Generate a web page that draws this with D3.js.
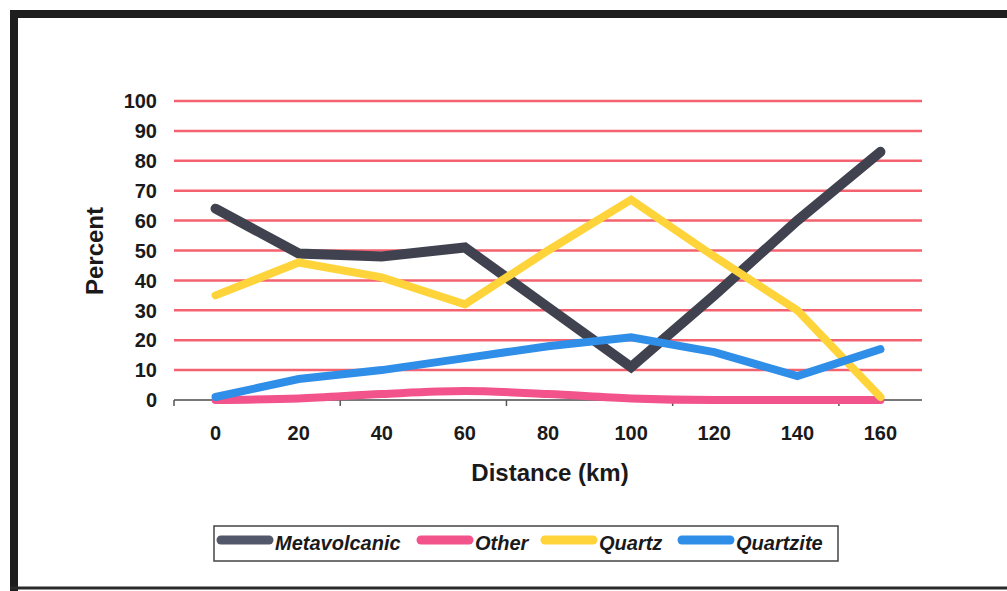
<!DOCTYPE html>
<html>
<head>
<meta charset="utf-8">
<script src="https://cdn.jsdelivr.net/npm/d3@7"></script>
<style>
  body { margin: 0; background: #fff; }
  text { font-family: "Liberation Sans", Arial, sans-serif; }
</style>
</head>
<body>
<div id="chart"></div>
<script>
// Data
const distances = ["0", "20", "40", "60", "80", "100", "120", "140", "160"];
const metavolcanic = [64, 49, 48, 51, 31, 11, 35, 60, 83];
const other = [0, 0.5, 2, 3, 2, 0.5, 0, 0, 0];
const quartz = [35, 46, 41, 32, 50, 67, 48, 30, 1];
const quartzite = [1, 7, 10, 14, 18, 21, 16, 8, 17];
const yTicks = [0, 10, 20, 30, 40, 50, 60, 70, 80, 90, 100];

const seriesNames = ["Metavolcanic", "Other", "Quartz", "Quartzite"];
const seriesColors = ["#40434f", "#f2538b", "#ffd43a", "#2f8ee8"];
const seriesValues = [metavolcanic, other, quartz, quartzite];

const width = 1007, height = 591;
const margin = { left: 174, right: 85, top: 101, bottom: 190 };
const innerWidth = width - margin.left - margin.right;
const innerHeight = 400 - margin.top;

const svg = d3.select("#chart")
    .append("svg")
    .attr("width", width)
    .attr("height", height);

// Outer frame
svg.append("line").attr("x1", 10).attr("x2", width).attr("y1", 14).attr("y2", 14)
    .attr("stroke", "#1e1e1e").attr("stroke-width", 8);
svg.append("line").attr("x1", 14).attr("x2", 14).attr("y1", 10).attr("y2", height)
    .attr("stroke", "#1e1e1e").attr("stroke-width", 8);
svg.append("line").attr("x1", 10).attr("x2", width).attr("y1", 588).attr("y2", 588)
    .attr("stroke", "#2a2a2a").attr("stroke-width", 3);

const g = svg.append("g")
    .attr("transform", `translate(${margin.left},${margin.top})`);

const x = d3.scaleBand()
    .domain(distances)
    .range([0, innerWidth])
    .padding(0);

const y = d3.scaleLinear()
    .domain([0, 100])
    .range([innerHeight, 0]);

const cx = d => x(d) + x.bandwidth() / 2;

// Gridlines
g.selectAll("line.grid")
    .data(yTicks.filter(t => t > 0))
    .join("line")
    .attr("class", "grid")
    .attr("x1", 0)
    .attr("x2", innerWidth)
    .attr("y1", d => y(d))
    .attr("y2", d => y(d))
    .attr("stroke", "#f5626f")
    .attr("stroke-width", 2.5);

// Y axis labels
g.selectAll("text.ytick")
    .data(yTicks)
    .join("text")
    .attr("class", "ytick")
    .attr("x", -17)
    .attr("y", d => y(d))
    .attr("dy", "0.36em")
    .attr("text-anchor", "end")
    .style("font-size", "20px")
    .style("font-weight", "bold")
    .style("fill", "#1a1a1a")
    .text(d => d);

// X axis line and ticks
g.append("line")
    .attr("x1", 0).attr("x2", innerWidth)
    .attr("y1", innerHeight).attr("y2", innerHeight)
    .attr("stroke", "#777").attr("stroke-width", 2);

g.selectAll("line.xtick")
    .data(distances.filter((d, i) => i % 2 === 0))
    .join("line")
    .attr("class", "xtick")
    .attr("x1", d => x(d)).attr("x2", d => x(d))
    .attr("y1", innerHeight).attr("y2", innerHeight + 6)
    .attr("stroke", "#555").attr("stroke-width", 1.5);

g.selectAll("text.xlabel")
    .data(distances)
    .join("text")
    .attr("class", "xlabel")
    .attr("x", d => cx(d))
    .attr("y", innerHeight + 40)
    .attr("text-anchor", "middle")
    .style("font-size", "20px")
    .style("font-weight", "bold")
    .style("fill", "#1a1a1a")
    .text(d => d);

// Lines
seriesNames.forEach((name, i) => {
    const line = d3.line()
        .x((v, j) => cx(distances[j]))
        .y(v => y(v))
        .curve(name === "Other" ? d3.curveMonotoneX : d3.curveLinear);
    g.append("path")
        .datum(seriesValues[i])
        .attr("fill", "none")
        .attr("stroke", seriesColors[i])
        .attr("stroke-width", i === 0 ? 10 : 8)
        .attr("stroke-linejoin", "miter")
        .attr("stroke-linecap", "round")
        .attr("d", line);
});

// Axis titles
svg.append("text")
    .attr("x", 550)
    .attr("y", 481)
    .attr("text-anchor", "middle")
    .style("font-size", "24px")
    .style("font-weight", "bold")
    .style("fill", "#1a1a1a")
    .text("Distance (km)");

svg.append("text")
    .attr("transform", "rotate(-90)")
    .attr("x", -251)
    .attr("y", 103)
    .attr("text-anchor", "middle")
    .style("font-size", "24px")
    .style("font-weight", "bold")
    .style("fill", "#1a1a1a")
    .text("Percent");

// Legend
const legend = svg.append("g");
legend.append("rect")
    .attr("x", 214).attr("y", 526)
    .attr("width", 624).attr("height", 35)
    .attr("fill", "#fff")
    .attr("stroke", "#444").attr("stroke-width", 1.5);

const swatchX = [217, 417, 541, 678];
seriesNames.forEach((name, i) => {
    legend.append("line")
        .attr("x1", swatchX[i] + 4).attr("x2", swatchX[i] + 52)
        .attr("y1", 540).attr("y2", 540)
        .attr("stroke", i === 0 ? "#525869" : seriesColors[i])
        .attr("stroke-width", 9)
        .attr("stroke-linecap", "round");
    legend.append("text")
        .attr("x", swatchX[i] + 58)
        .attr("y", 550)
        .style("font-size", "20px")
        .style("font-weight", "bold")
        .style("font-style", "italic")
        .style("fill", "#1a1a1a")
        .text(name);
});
</script>
</body>
</html>
